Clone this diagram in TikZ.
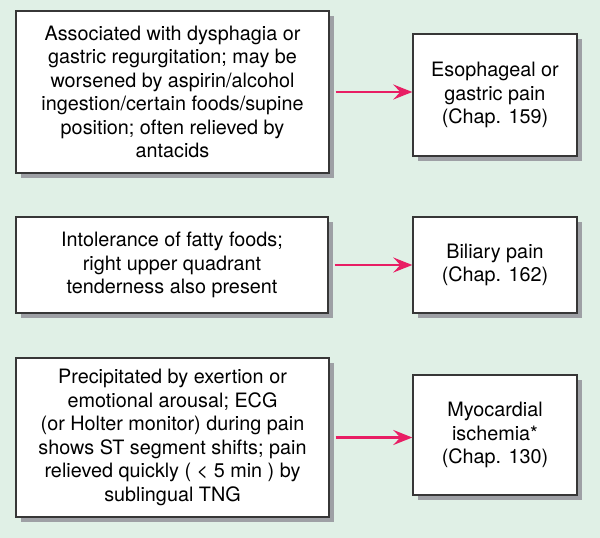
\documentclass[tikz,border=0pt]{standalone}
\usepackage{fontspec}
\setmainfont{TeX Gyre Heros}
\usetikzlibrary{arrows.meta,shadows}
\definecolor{bgmint}{RGB}{224,240,230}
\definecolor{boxline}{RGB}{55,55,55}
\definecolor{shadowgray}{RGB}{158,160,165}
\definecolor{arrowred}{RGB}{232,30,100}
\tikzset{
  box/.style={draw=boxline, line width=1.4pt, fill=white, align=center,
    inner sep=0pt, font=\fontsize{19.8}{23.5}\selectfont,
    drop shadow={shadow xshift=5pt, shadow yshift=-5pt, fill=shadowgray, opacity=1}},
  arr/.style={draw=arrowred, line width=2.4pt, shorten <=6pt,
    -{Stealth[length=19pt,width=15pt,inset=7pt]}}
}
\begin{document}
\begin{tikzpicture}[x=1pt,y=1pt]
\fill[bgmint] (0,0) rectangle (600,-538);
\useasboundingbox (0,0) rectangle (600,-538);
\node[box, minimum width=313pt, minimum height=162pt] (b1) at (172.5,-92)
  {Associated with dysphagia or\\gastric regurgitation; may be\\worsened by aspirin/alcohol\\ingestion/certain foods/supine\\position; often relieved by\\antacids};
\node[box, minimum width=164pt, minimum height=122pt] (b2) at (495,-95)
  {Esophageal or\\gastric pain\\(Chap. 159)};
\node[box, minimum width=312pt, minimum height=96pt] (b3) at (172,-265)
  {Intolerance of fatty foods;\\right upper quadrant\\tenderness also present};
\node[box, minimum width=164pt, minimum height=96pt] (b4) at (495,-265)
  {Biliary pain\\(Chap. 162)};
\node[box, minimum width=313pt, minimum height=159pt] (b5) at (172.5,-437.5)
  {Precipitated by exertion or\\emotional arousal; ECG\\(or Holter monitor) during pain\\shows ST segment shifts; pain\\relieved quickly ( {<} 5 min ) by\\sublingual TNG};
\node[box, minimum width=164pt, minimum height=120pt] (b6) at (495,-435)
  {Myocardial\\ischemia*\\(Chap. 130)};
\draw[arr] (b1.east) -- (b1.east -| b2.west);
\draw[arr] (b3.east) -- (b3.east -| b4.west);
\draw[arr] (b5.east) -- (b5.east -| b6.west);
\end{tikzpicture}
\end{document}
